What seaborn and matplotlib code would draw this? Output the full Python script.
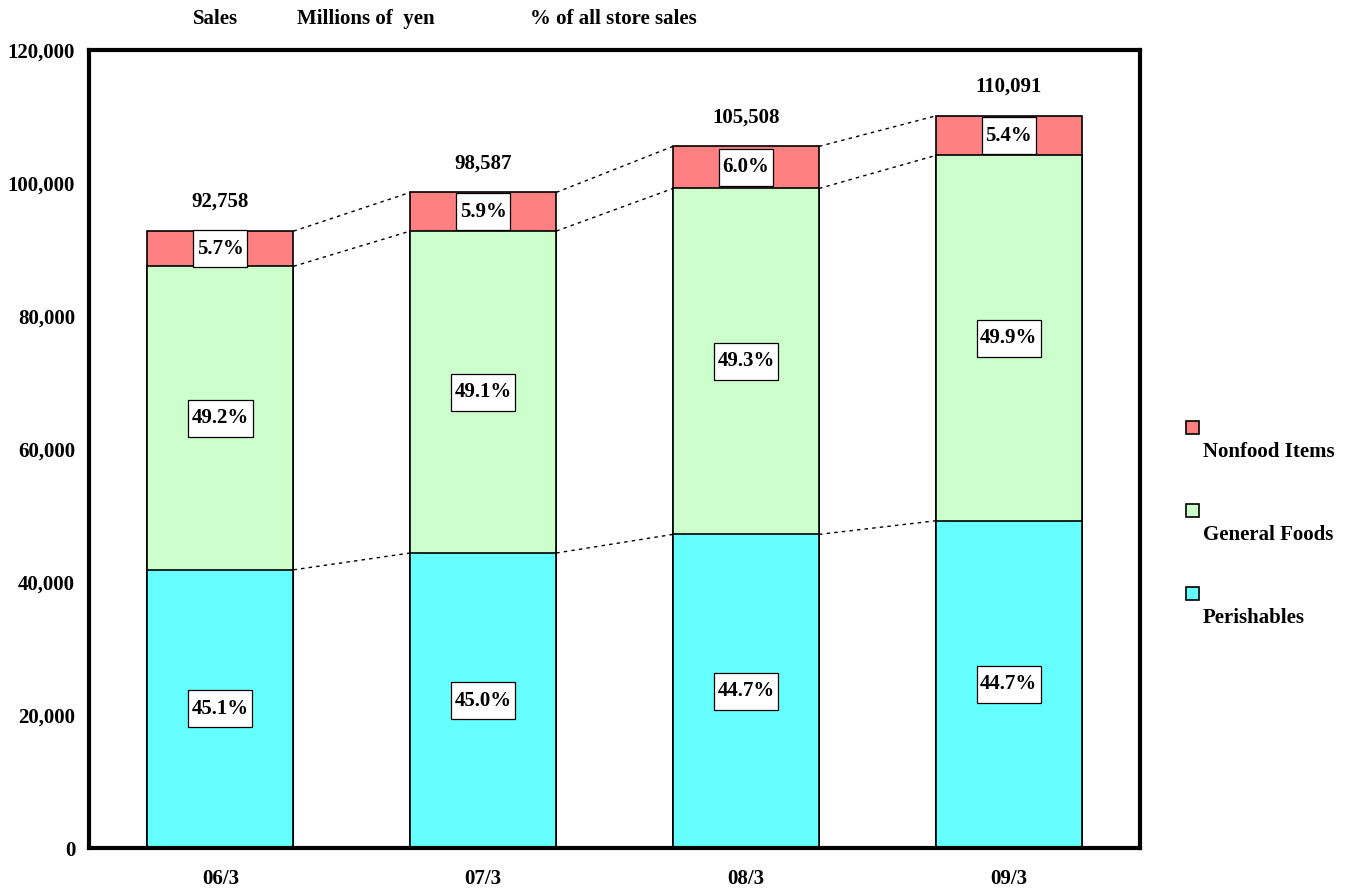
import matplotlib
matplotlib.use("Agg")
import matplotlib.pyplot as plt
import matplotlib.transforms as mtrans
import seaborn as sns
import pandas as pd
import numpy as np
from matplotlib.patches import Rectangle

periods = ["06/3", "07/3", "08/3", "09/3"]
totals = [92758, 98587, 105508, 110091]
perishables = [41834, 44364, 47162, 49211]
general_foods = [45637, 48406, 52015, 54935]
nonfood = [5287, 5817, 6331, 5945]
pct_perishables = ["45.1%", "45.0%", "44.7%", "44.7%"]
pct_general = ["49.2%", "49.1%", "49.3%", "49.9%"]
pct_nonfood = ["5.7%", "5.9%", "6.0%", "5.4%"]
yticks = [0, 20000, 40000, 60000, 80000, 100000, 120000]
col_nonfood = "#FF8080"
col_general = "#CCFFCC"
col_perish = "#66FFFF"

sns.set_theme(style="white")
plt.rcParams['font.family'] = ['Liberation Serif', 'DejaVu Serif']
plt.rcParams['font.weight'] = 'bold'
plt.rcParams['text.color'] = 'black'
plt.rcParams['xtick.color'] = 'black'
plt.rcParams['ytick.color'] = 'black'

FS = 15

df = pd.DataFrame({
    "period": periods,
    "perish": perishables,
    "pg": np.array(perishables) + np.array(general_foods),
    "total": np.array(perishables) + np.array(general_foods) + np.array(nonfood),
})

fig = plt.figure(figsize=(13.59, 8.88), dpi=100)
ax = fig.add_axes([0.0655, 0.045, 0.7735, 0.8987])

W = 0.556
for col, c in [("total", col_nonfood), ("pg", col_general), ("perish", col_perish)]:
    sns.barplot(data=df, x="period", y=col, color=c, width=W, saturation=1,
                edgecolor="black", linewidth=1.2, ax=ax)

ax.set_xlim(-0.5, 3.5)
ax.set_ylim(0, 120000)
ax.set_yticks(yticks)
ax.set_yticklabels([f"{v:,}" for v in yticks], fontsize=FS, fontweight='bold')
ax.set_xticks(range(4))
ax.set_xticklabels(periods, fontsize=FS, fontweight='bold')
ax.tick_params(axis='both', length=0, pad=10)
ax.tick_params(axis='x', pad=15)
ax.set_xlabel("")
ax.set_ylabel("")
for s in ax.spines.values():
    s.set_linewidth(3)
    s.set_color("black")

tops = df["total"].values
pg = df["pg"].values
pe = df["perish"].values
labels = []
for i in range(4):
    for yv, txt in [(pe[i] / 2, pct_perishables[i]),
                    ((pe[i] + pg[i]) / 2, pct_general[i]),
                    ((pg[i] + tops[i]) / 2, pct_nonfood[i])]:
        t = ax.text(i, yv, txt, ha="center", va="center", fontsize=FS,
                    fontweight='bold', zorder=5)
        labels.append((i, yv, t))
    ax.text(i, tops[i] + 4400, f"{totals[i]:,}", ha="center", va="center", fontsize=FS,
            fontweight='bold')

for i in range(3):
    for arr in (tops, pg, pe):
        ax.plot([i + W / 2, i + 1 - W / 2], [arr[i], arr[i + 1]], color="black",
                lw=1, ls=(0, (2.5, 3)))

fig.canvas.draw()
renderer = fig.canvas.get_renderer()
for i, yv, t in labels:
    bb = t.get_window_extent(renderer)
    wpx = bb.width + 7
    hpx = 37
    tr = fig.dpi_scale_trans + mtrans.ScaledTranslation(i, yv, ax.transData)
    r = Rectangle((-wpx / 2 / 100, -hpx / 2 / 100), wpx / 100, hpx / 100, transform=tr,
                  fc="white", ec="black", lw=0.9, zorder=4, clip_on=False)
    ax.add_artist(r)

fig.text(193 / 1359, 1 - 19 / 888, "Sales", ha="left", va="center", fontsize=FS, fontweight='bold')
fig.text(297 / 1359, 1 - 19 / 888, "Millions of  yen", ha="left", va="center", fontsize=FS, fontweight='bold')
fig.text(530 / 1359, 1 - 19 / 888, "% of all store sales", ha="left", va="center", fontsize=FS, fontweight='bold')

legend_items = [("Nonfood Items", col_nonfood, 427), ("General Foods", col_general, 510), ("Perishables", col_perish, 593)]
for label, c, ypx in legend_items:
    fig.patches.append(Rectangle((1186 / 1359, 1 - (ypx + 7) / 888), 13 / 1359, 13 / 888,
                                 transform=fig.transFigure, fc=c, ec="black", lw=1.2))
    fig.text(1203 / 1359, 1 - (ypx + 25) / 888, label, ha="left", va="center",
             fontsize=FS, fontweight='bold')

fig.savefig("out.png", dpi=100)
